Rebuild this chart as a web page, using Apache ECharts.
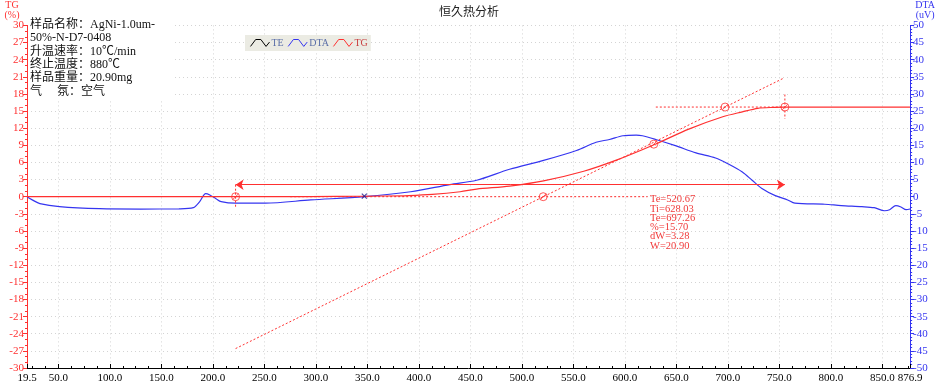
<!DOCTYPE html>
<html>
<head>
<meta charset="utf-8">
<script src="https://cdn.jsdelivr.net/npm/echarts@6/dist/echarts.min.js"></script>
<style>html,body{margin:0;padding:0;background:#fff}#c{width:938px;height:384px}</style>
</head>
<body>
<div id="c"></div>
<script>
// ---- data ----
const titleText = '恒久热分析';
const infoLines = ['样品名称：AgNi-1.0um-', '50%-N-D7-0408', '升温速率：10℃/min', '终止温度：880℃', '样品重量：20.90mg', '气　 氛：空气'];
const resultLines = ['Te=520.67', 'Ti=628.03', 'Te=697.26', '%=15.70', 'dW=3.28', 'W=20.90'];
const xTickLabels = [19.5, 50, 100, 150, 200, 250, 300, 350, 400, 450, 500, 550, 600, 650, 700, 750, 800, 850, 876.9];
const xMinorTicks = [25, 37.5, 62.5, 75, 87.5, 112.5, 125, 137.5, 162.5, 175, 187.5, 212.5, 225, 237.5, 262.5, 275, 287.5, 312.5, 325, 337.5, 362.5, 375, 387.5, 412.5, 425, 437.5, 462.5, 475, 487.5, 512.5, 525, 537.5, 562.5, 575, 587.5, 612.5, 625, 637.5, 662.5, 675, 687.5, 712.5, 725, 737.5, 762.5, 775, 787.5, 812.5, 825, 837.5, 862.5, 875];
const dtaData = [
  [19.5, 0.0], [25, -1.0], [32, -2.0], [51, -2.9], [90, -3.5], [130, -3.6], [167, -3.55], [181, -3.2],
  [187, -1.5], [193, 0.9], [197, 0.5], [203, -0.6], [208, -1.45], [222, -1.9], [251, -1.9], [295, -0.95],
  [347, 0.0], [392, 1.45], [430, 3.55], [456, 4.8], [488, 8.0], [521, 10.6], [553, 13.5], [572, 15.9],
  [585, 16.7], [598, 17.8], [611, 18.0], [617, 17.8], [630, 16.7], [649, 14.9], [669, 12.8], [688, 11.3],
  [700, 9.6], [714, 7.2], [723.5, 4.8], [733, 2.4], [746, 0.3], [758, -0.95], [765, -1.9], [794, -2.2],
  [810, -2.6], [830, -2.9], [842, -3.2], [852, -4.1], [857, -3.8], [863, -2.6], [868, -3.0], [873, -3.8], [876.9, -3.6]
];
const tgData = [
  [19.5, 0], [270, 0], [320, 0.05], [367, 0.12], [390, 0.2], [413, 0.4], [440, 0.87], [456, 1.33],
  [488, 1.86], [521, 2.77], [560, 4.46], [591, 6.36], [630, 9.24], [662, 11.84], [695, 14.0], [714, 14.86],
  [729, 15.48], [745, 15.65], [755, 15.7], [876.9, 15.7]
];
const teData = [];
const arrowLine = [[222, 2.1], [755.3, 2.1]];
const onsetDrop = [[222, 2.1], [222, -2.1]];
const baseDotted = [[275, 0], [622, 0]];
const tangentLine = [[222, -26.6], [753.4, 20.7]];
const plateauDotted = [[630, 15.7], [755.3, 15.7]];
const endDrop = [[755.3, 17.9], [755.3, 13.6]];
const circleMarks = [[222, 0], [520.67, 0], [628.03, 9.2], [697.26, 15.7], [755.3, 15.7]];
const crossMarks = [[347, 0.1]];

// ---- chart ----
const RED = '#ff3030', BLUE = '#3535f0';
const serif = "'Liberation Serif', 'Noto Sans CJK SC', serif";
const gridDot = { color: '#d4d4d4', width: 1, type: [1, 3] };
const chart = echarts.init(document.getElementById('c'));
const circSym = 'path://M10,0 A10,10 0 1,1 10,20 A10,10 0 1,1 10,0 Z M3,17 L17,3';
const legIcon = 'path://M0,11 L6,3 L12,3 L18,11 L22,6';
function dotted(name, d) {
  return { name: name, type: 'line', xAxisIndex: 0, yAxisIndex: 0, data: d, showSymbol: false, silent: true,
    lineStyle: { color: RED, width: 1, type: [2, 2] }, color: RED, z: 5 };
}
chart.setOption({
  animation: false,
  title: { text: titleText, left: 'center', top: 0, textStyle: { fontSize: 12, fontWeight: 'normal', color: '#222', fontFamily: "'Noto Sans CJK SC', serif" } },
  legend: {
    left: 245, top: 35, itemWidth: 19, itemHeight: 12, itemGap: 2,
    backgroundColor: '#ebebe3', padding: [2, 3],
    textStyle: { fontFamily: serif, fontSize: 10, color: '#5b6fa8', padding: [0, 0, 0, -3] },
    data: [
      { name: 'TE', icon: legIcon, itemStyle: { color: 'none', borderColor: '#000', borderWidth: 1 } },
      { name: 'DTA', icon: legIcon, itemStyle: { color: 'none', borderColor: BLUE, borderWidth: 1 } },
      { name: 'TG', icon: legIcon, itemStyle: { color: 'none', borderColor: RED, borderWidth: 1 }, textStyle: { color: '#c84040' } }
    ]
  },
  grid: { left: 27, right: 22, top: 22, bottom: 16, containLabel: false },
  xAxis: [{
    type: 'value', min: 19.5, max: 876.9,
    axisLine: { show: true, onZero: false, lineStyle: { color: '#000' } },
    axisTick: { show: true, inside: true, length: 4, customValues: xTickLabels, lineStyle: { color: '#000' } },
    axisLabel: { customValues: xTickLabels, formatter: v => v.toFixed(1), color: '#000', fontFamily: serif, fontSize: 11, margin: 5, showMinLabel: true, showMaxLabel: true, hideOverlap: false },
    splitLine: { show: true, lineStyle: gridDot }
  }, {
    type: 'value', min: 19.5, max: 876.9, position: 'bottom',
    axisLine: { show: false, onZero: false },
    axisTick: { show: true, inside: true, length: 2, customValues: xMinorTicks, lineStyle: { color: '#000' } },
    axisLabel: { show: false }, splitLine: { show: false }
  }],
  yAxis: [{
    type: 'value', min: -30, max: 30, interval: 3, position: 'left',
    name: 'TG\n(%)', nameLocation: 'end', nameGap: 3,
    nameTextStyle: { color: RED, fontFamily: serif, fontSize: 10, align: 'center', padding: [0, 30, 0, 0], lineHeight: 10 },
    axisLine: { show: true, onZero: false, lineStyle: { color: RED } },
    axisTick: { show: true, length: 4, lineStyle: { color: RED } },
    minorTick: { show: true, splitNumber: 3, length: 2, lineStyle: { color: RED } },
    axisLabel: { color: RED, fontFamily: serif, fontSize: 11, margin: 3 },
    splitLine: { show: true, lineStyle: gridDot }
  }, {
    type: 'value', min: -50, max: 50, interval: 5, position: 'right',
    name: 'DTA\n(uV)', nameLocation: 'end', nameGap: 3,
    nameTextStyle: { color: BLUE, fontFamily: serif, fontSize: 10, align: 'center', padding: [0, 0, 0, 30], lineHeight: 10 },
    axisLine: { show: true, onZero: false, lineStyle: { color: BLUE } },
    axisTick: { show: true, length: 4, lineStyle: { color: BLUE } },
    minorTick: { show: true, splitNumber: 5, length: 2, lineStyle: { color: BLUE } },
    axisLabel: { color: BLUE, fontFamily: serif, fontSize: 11, margin: 3 },
    splitLine: { show: false }
  }],
  graphic: [
    { type: 'rect', left: 28, top: 15, z: 100, shape: { width: 145, height: 86 }, style: { fill: '#fff' } },
    { type: 'text', left: 30, top: 18, z: 101, style: { text: infoLines.join('\n'), font: "12px 'Liberation Serif', 'Noto Sans CJK SC'", lineHeight: 13.4, fill: '#111' } },
    { type: 'text', left: 650, top: 194, z: 101, style: { text: resultLines.join('\n'), font: "10.5px 'Liberation Serif'", lineHeight: 9.3, fill: '#f03a3a' } }
  ],
  series: [
    { name: 'TE', type: 'line', data: teData, showSymbol: false, color: '#000' },
    { name: 'DTA', type: 'line', yAxisIndex: 1, data: dtaData, showSymbol: false, smooth: 0.3, color: BLUE, lineStyle: { width: 1.2, color: BLUE }, z: 3 },
    { name: 'TG', type: 'line', yAxisIndex: 0, data: tgData, showSymbol: false, smooth: 0.3, color: RED, lineStyle: { width: 1.2, color: RED }, z: 4 },
    { name: 'arrow', type: 'lines', coordinateSystem: 'cartesian2d', xAxisIndex: 0, yAxisIndex: 0, symbol: ['arrow', 'arrow'], symbolSize: 8,
      lineStyle: { color: RED, width: 1, opacity: 1 }, data: [{ coords: arrowLine }], z: 5 },
    dotted('d1', onsetDrop), dotted('d2', baseDotted), dotted('d3', tangentLine), dotted('d4', plateauDotted), dotted('d5', endDrop),
    { name: 'marks', type: 'scatter', xAxisIndex: 0, yAxisIndex: 0, symbol: circSym, symbolSize: 8,
      itemStyle: { color: 'none', borderColor: RED, borderWidth: 1 }, data: circleMarks, z: 6 },
    { name: 'cross', type: 'scatter', xAxisIndex: 0, yAxisIndex: 0, symbol: 'path://M0,0 L10,10 M10,0 L0,10', symbolSize: 5,
      itemStyle: { color: 'none', borderColor: '#1a1a90', borderWidth: 1.2 }, data: crossMarks, z: 6 }
  ]
});
</script>
</body>
</html>
